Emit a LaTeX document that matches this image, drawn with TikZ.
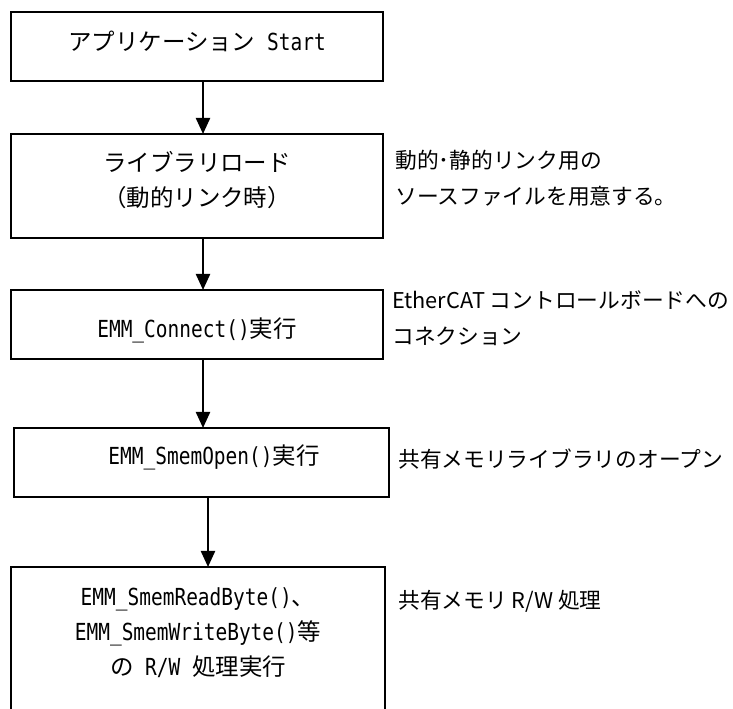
\documentclass[tikz,border=0pt]{standalone}
\usepackage{fontspec}
\usetikzlibrary{arrows.meta}
\newfontfamily\jp{Noto Sans CJK JP}
\newfontfamily\mlatfont{DejaVu Sans Mono}[FakeStretch=0.83]
\newcommand\mlat[1]{{\mlatfont #1}}
\tikzset{
  stepbox/.style={draw=black, line width=1.1pt},
  boxtext/.style={font=\jp\fontsize{17.6}{26.25}\selectfont, align=center, inner sep=0pt},
  sidetext/.style={font=\jp\fontsize{16.3}{27}\selectfont, align=left, inner sep=0pt, anchor=west},
  flow/.style={line width=1.7pt, -{Triangle[width=10.5pt,length=12pt]}}
}
\begin{document}
\begin{tikzpicture}[x=0.75pt,y=-0.75pt]
\clip (0,0) rectangle (733,709);
\fill[white] (0,0) rectangle (733,709);
% boxes
\draw[stepbox] (11,12) rectangle (383,81);
\coordinate (b1s) at (203,81);
\draw[stepbox] (11,134) rectangle (383,238);
\coordinate (b2n) at (203,134);
\coordinate (b2s) at (203,238);
\draw[stepbox] (11,290) rectangle (383,359);
\coordinate (b3n) at (203,290);
\coordinate (b3s) at (203,359);
\draw[stepbox] (14,428) rectangle (389,497);
\coordinate (b4n) at (203,428);
\coordinate (b4s) at (208,497);
\draw[stepbox] (11,567) rectangle (385,740);
\coordinate (b5n) at (208,567);
% box texts
\node[boxtext] (t1) at (197,41) {アプリケーション\mlat{ Start}};
\node[boxtext] (t2) at (197,180) {ライブラリロード\\（動的リンク時）};
\node[boxtext] (t3) at (197,330) {\mlat{EMM\_Connect()}実行};
\node[boxtext] (t4) at (214,457) {\mlat{EMM\_SmemOpen()}実行};
\node[boxtext] (t5) at (198,633) {\mlat{EMM\_SmemReadByte()}、\\\mlat{EMM\_SmemWriteByte()}等\\の\mlat{ R/W }処理実行};
% side texts
\node[sidetext] (s2) at (395,178) {動的･静的リンク用の\\ソースファイルを用意する。};
\node[sidetext] (s3) at (392,318) {EtherCAT コントロールボードへの\\コネクション};
\node[sidetext] (s4) at (398,459) {共有メモリライブラリのオープン};
\node[sidetext] (s5) at (398,601) {共有メモリ R/W 処理};
% arrows
\draw[flow] (b1s) -- (b2n);
\draw[flow] (b2s) -- (b3n);
\draw[flow] (b3s) -- (b4n);
\draw[flow] (b4s) -- (b5n);
\end{tikzpicture}
\end{document}
